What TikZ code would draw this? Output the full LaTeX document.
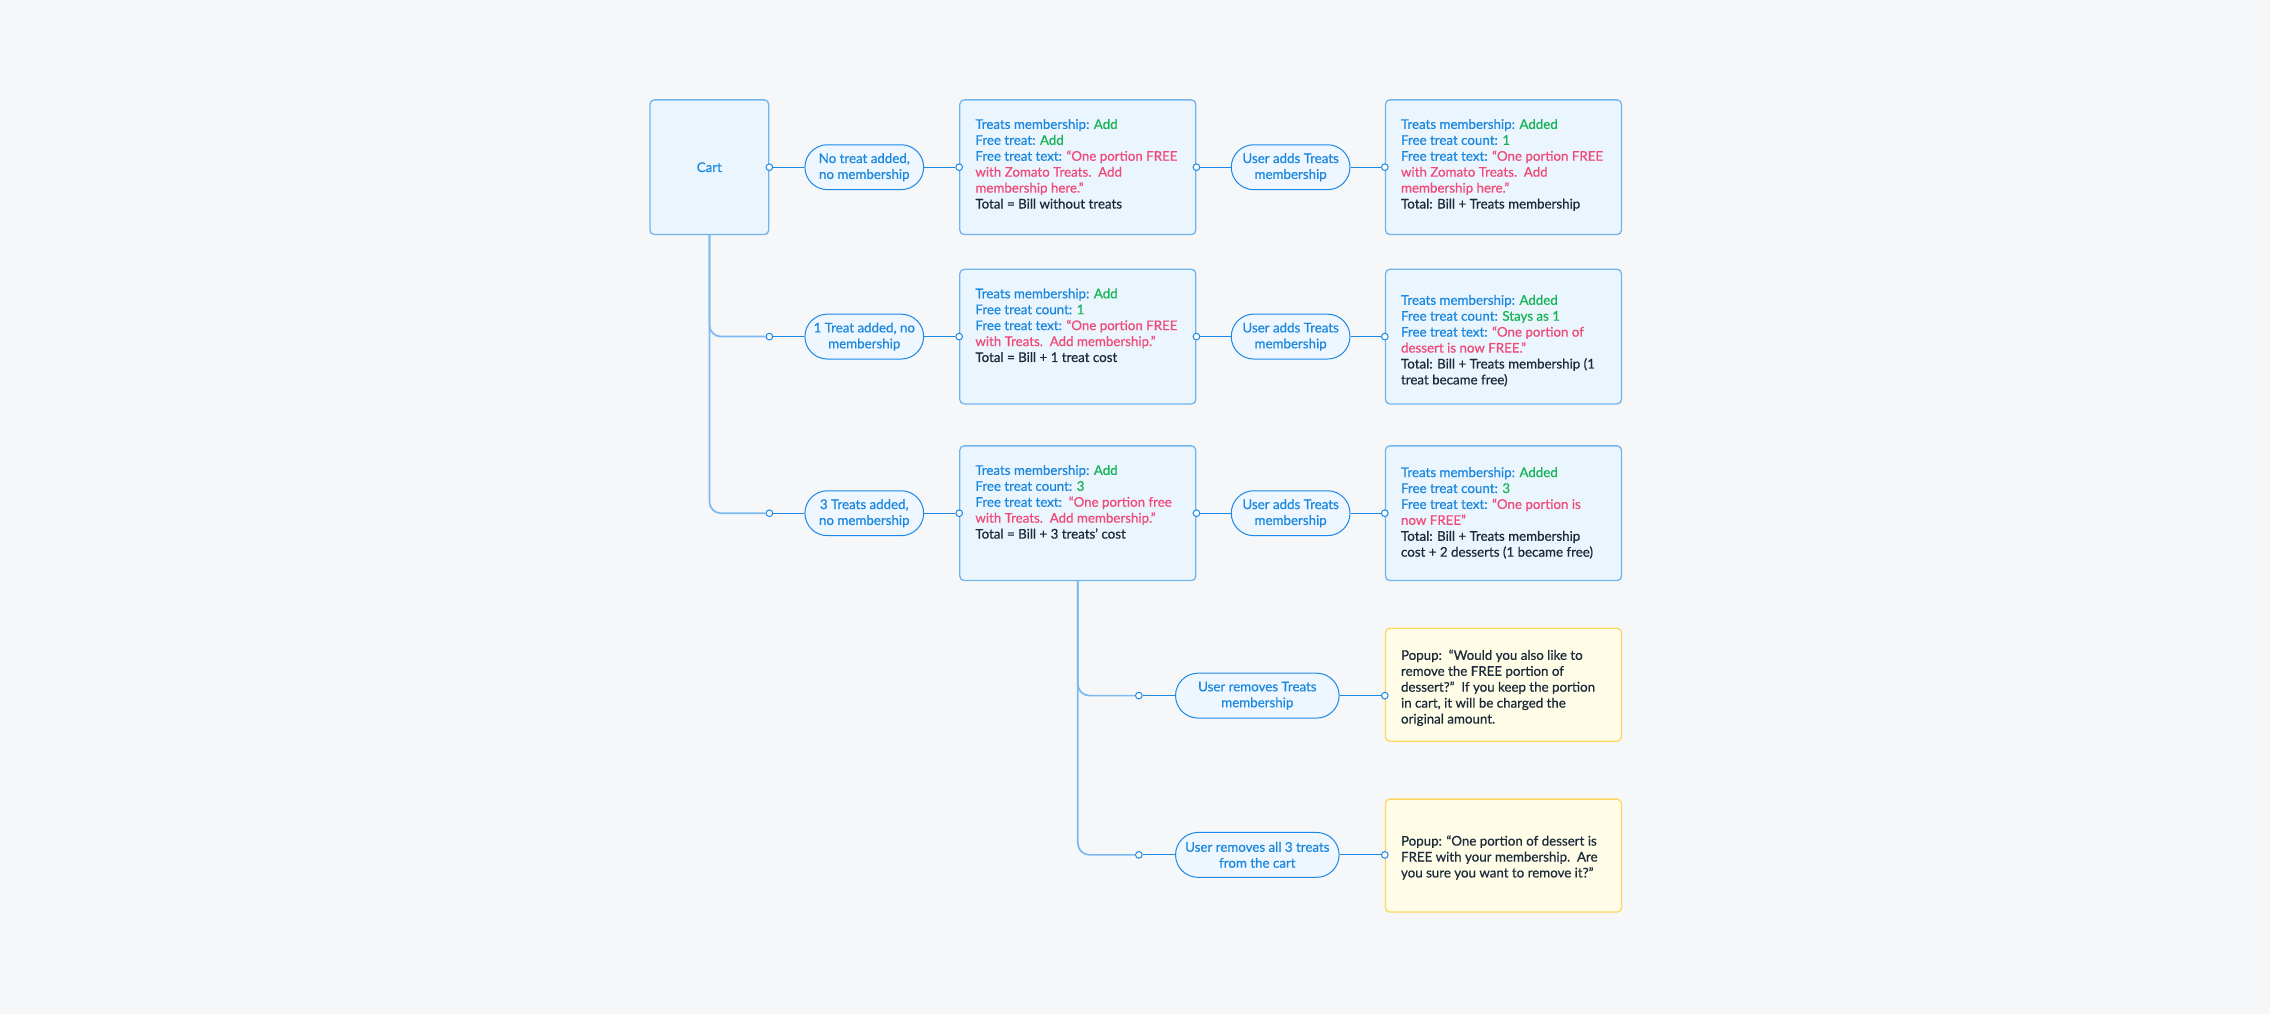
\documentclass[tikz,border=0pt]{standalone}
\usepackage{fontspec}
\setmainfont{Lato}[FakeBold=0.6]
\usepackage{xcolor}
\usepackage{tikz}

\definecolor{bgc}{HTML}{F5F7F9}
\definecolor{boxfill}{HTML}{EBF5FE}
\definecolor{boxline}{HTML}{72B4EE}
\definecolor{pillfill}{HTML}{EEF7FF}
\definecolor{linkc}{HTML}{1E88E5}
\definecolor{trunkc}{HTML}{7DBAF0}
\definecolor{popfill}{HTML}{FFFDE8}
\definecolor{popline}{HTML}{FCD860}
\definecolor{tblue}{HTML}{1B87DE}
\definecolor{tgreen}{HTML}{16B457}
\definecolor{tpink}{HTML}{EF4A78}
\definecolor{tdark}{HTML}{1C2B3A}

\newcommand{\grn}[1]{\textcolor{tgreen}{#1}}
\newcommand{\pnk}[1]{\textcolor{tpink}{#1}}
\newcommand{\drk}[1]{\textcolor{tdark}{#1}}

\tikzset{
  box/.style={draw=boxline,fill=boxfill,line width=0.9pt,rounded corners=3pt,
    minimum width=163pt,minimum height=93pt,inner sep=0pt,text=tblue,
    font=\fontsize{9.2}{11}\selectfont},
  popbox/.style={box,draw=popline,fill=popfill,minimum height=78pt},
  pill/.style={draw=linkc,fill=pillfill,line width=0.7pt,rounded corners=15.5pt,
    minimum width=82pt,minimum height=31pt,inner sep=0pt,align=center,text=tblue,
    font=\fontsize{9.2}{11}\selectfont},
  txt/.style={anchor=north west,align=left,inner sep=0pt,text=tblue,
    font=\fontsize{9.2}{11}\selectfont},
  link/.style={draw=linkc,line width=0.7pt},
  trunk/.style={draw=trunkc,line width=1.2pt,rounded corners=8pt},
  dot/.style={circle,draw=linkc,fill=white,line width=0.7pt,minimum size=4.6pt,inner sep=0pt}
}

\begin{document}
\begin{tikzpicture}[x=1pt,y=1pt]
\fill[bgc] (0,0) rectangle (1568,-700.4);
\useasboundingbox (0,0) rectangle (1568,-700.4);

% left column
\node[box,minimum width=82pt] (cart) at (490,-115.5) {Cart};
\node[pill] (p1) at (597,-115.5) {No treat added,\\no membership};
\node[pill] (p2) at (597,-232.5) {1 Treat added, no\\membership};
\node[pill] (p3) at (597,-354.5) {3 Treats added,\\no membership};

% first boxes
\node[box] (a1) at (744.5,-115.5) {};
\node[txt] (a1t) at ([xshift=11pt,yshift=-13.5pt]a1.north west)
  {Treats membership: \grn{Add}\\
   Free treat: \grn{Add}\\
   Free treat text: \pnk{“One portion FREE}\\
   \pnk{with Zomato Treats.\ \ Add}\\
   \pnk{membership here.”}\\
   \drk{Total = Bill without treats}};
\node[box] (a2) at (744.5,-232.5) {};
\node[txt] (a2t) at ([xshift=11pt,yshift=-13.5pt]a2.north west)
  {Treats membership: \grn{Add}\\
   Free treat count: \grn{1}\\
   Free treat text: \pnk{“One portion FREE}\\
   \pnk{with Treats.\ \ Add membership.”}\\
   \drk{Total = Bill + 1 treat cost}};
\node[box] (a3) at (744.5,-354.5) {};
\node[txt] (a3t) at ([xshift=11pt,yshift=-13.5pt]a3.north west)
  {Treats membership: \grn{Add}\\
   Free treat count: \grn{3}\\
   Free treat text:\ \ \pnk{“One portion free}\\
   \pnk{with Treats.\ \ Add membership.”}\\
   \drk{Total = Bill + 3 treats’ cost}};

% user adds membership
\node[pill] (u1) at (891.5,-115.5) {User adds Treats\\membership};
\node[pill] (u2) at (891.5,-232.5) {User adds Treats\\membership};
\node[pill] (u3) at (891.5,-354.5) {User adds Treats\\membership};

% result boxes
\node[box] (b1) at (1038.5,-115.5) {};
\node[txt] (b1t) at ([xshift=11pt,yshift=-13.5pt]b1.north west)
  {Treats membership: \grn{Added}\\
   Free treat count: \grn{1}\\
   Free treat text: \pnk{“One portion FREE}\\
   \pnk{with Zomato Treats.\ \ Add}\\
   \pnk{membership here.”}\\
   \drk{Total: Bill + Treats membership}};
\node[box] (b2) at (1038.5,-232.5) {};
\node[txt] (b2t) at ([xshift=11pt,yshift=-18pt]b2.north west)
  {Treats membership: \grn{Added}\\
   Free treat count: \grn{Stays as 1}\\
   Free treat text: \pnk{“One portion of}\\
   \pnk{dessert is now FREE.”}\\
   \drk{Total: Bill + Treats membership (1}\\
   \drk{treat became free)}};
\node[box] (b3) at (1038.5,-354.5) {};
\node[txt] (b3t) at ([xshift=11pt,yshift=-15pt]b3.north west)
  {Treats membership: \grn{Added}\\
   Free treat count: \grn{3}\\
   Free treat text: \pnk{“One portion is}\\
   \pnk{now FREE”}\\
   \drk{Total: Bill + Treats membership}\\
   \drk{cost + 2 desserts (1 became free)}};

% removing
\node[pill,minimum width=113pt] (r1) at (868.5,-480.5) {User removes Treats\\membership};
\node[pill,minimum width=113pt] (r2) at (868.5,-590.5) {User removes all 3 treats\\from the cart};
\node[popbox] (q1) at (1038.5,-473) {};
\node[txt,text=tdark] (q1t) at ([xshift=11pt,yshift=-15pt]q1.north west)
  {Popup:\ \ “Would you also like to\\
   remove the FREE portion of\\
   dessert?”\ \ If you keep the portion\\
   in cart, it will be charged the\\
   original amount.};
\node[popbox] (q2) at (1038.5,-591) {};
\node[txt,text=tdark] (q2t) at ([xshift=11pt,yshift=-25.3pt]q2.north west)
  {Popup: “One portion of dessert is\\
   FREE with your membership.\ \ Are\\
   you sure you want to remove it?”};

% dots
\node[dot] (d1) at (cart.east) {};
\node[dot] (d2) at (cart.east |- p2.west) {};
\node[dot] (d3) at (cart.east |- p3.west) {};
\node[dot] (e1) at (a1.west) {};
\node[dot] (e2) at (a2.west) {};
\node[dot] (e3) at (a3.west) {};
\node[dot] (f1) at (a1.east) {};
\node[dot] (f2) at (a2.east) {};
\node[dot] (f3) at (a3.east) {};
\node[dot] (g1) at (b1.west) {};
\node[dot] (g2) at (b2.west) {};
\node[dot] (g3) at (b3.west) {};
\node[dot] (h1) at ([xshift=-25pt]r1.west) {};
\node[dot] (h2) at ([xshift=-25pt]r2.west) {};
\node[dot] (k1) at (q1.west |- r1.east) {};
\node[dot] (k2) at (q2.west |- r2.east) {};

% trunks
\draw[trunk] (cart.south) |- (d2.west);
\draw[trunk] (cart.south) |- (d3.west);
\draw[trunk] (a3.south) |- (h1.west);
\draw[trunk] (a3.south) |- (h2.west);

% links
\draw[link] (d1) -- (p1);
\draw[link] (d2) -- (p2);
\draw[link] (d3) -- (p3);
\draw[link] (p1) -- (e1);
\draw[link] (p2) -- (e2);
\draw[link] (p3) -- (e3);
\draw[link] (f1) -- (u1);
\draw[link] (f2) -- (u2);
\draw[link] (f3) -- (u3);
\draw[link] (u1) -- (g1);
\draw[link] (u2) -- (g2);
\draw[link] (u3) -- (g3);
\draw[link] (h1) -- (r1);
\draw[link] (h2) -- (r2);
\draw[link] (r1) -- (k1);
\draw[link] (r2) -- (k2);
\end{tikzpicture}
\end{document}
